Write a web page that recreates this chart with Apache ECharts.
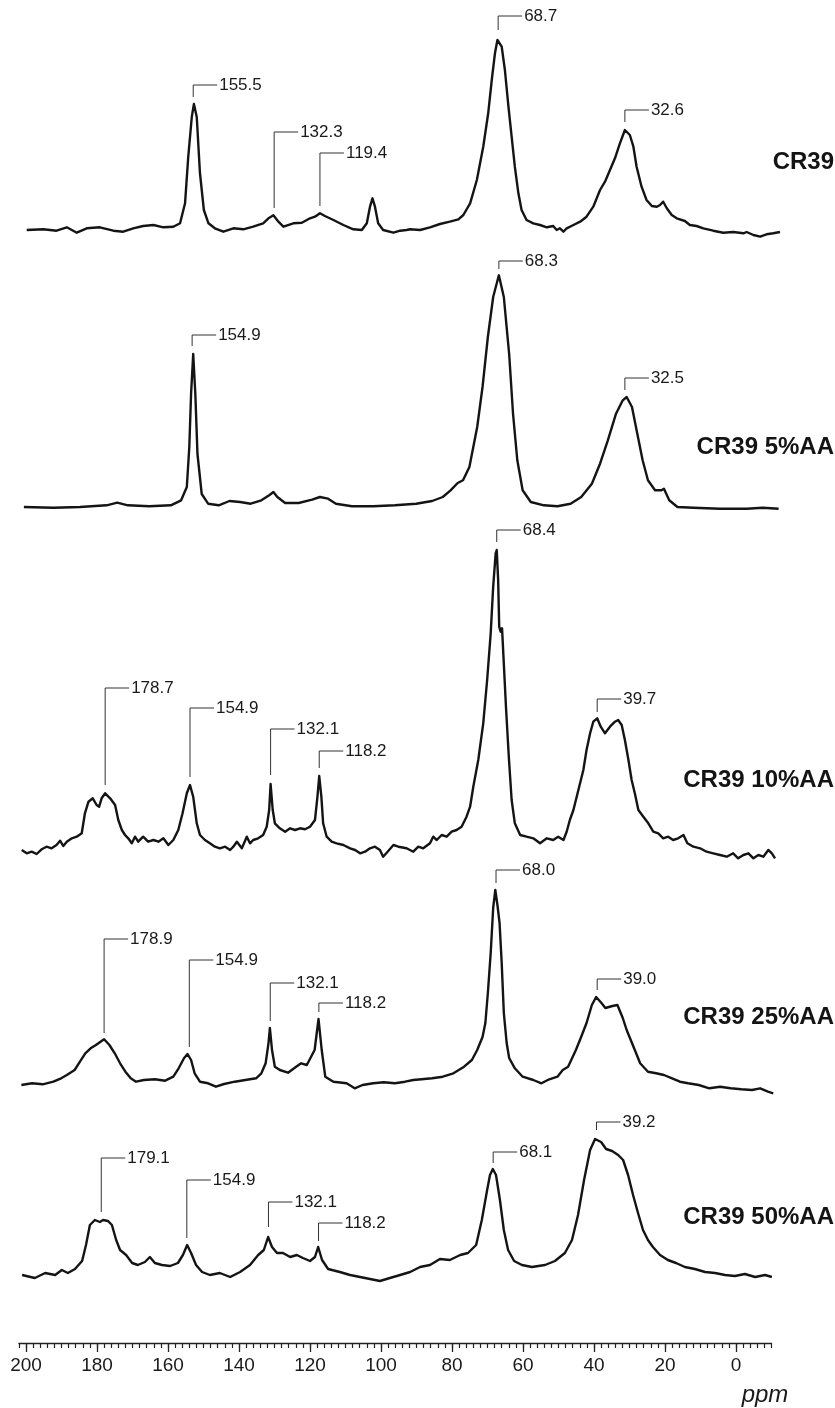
<!DOCTYPE html>
<html>
<head>
<meta charset="utf-8">
<title>CR39 13C NMR spectra</title>
<script src="https://cdn.jsdelivr.net/npm/echarts@6/dist/echarts.min.js"></script>
<style>
  html, body { margin: 0; padding: 0; background: #fff; }
  #chart { width: 835px; height: 1408px; }
</style>
</head>
<body>
<div id="chart"></div>
<script>
// spectra, [ppm, intensity]
const cr39 = [[199.8,0],[195.1,0.7],[191.4,-0.7],[188.5,2.7],[185.7,-2.7],[182.9,1.7],[179.2,2.7],[175.4,-0.7],[172.6,-1.7],[169.8,1.7],[167.0,4],[164.1,5],[161.3,2.7],[158.5,3.3],[156.6,6.7],[155.2,26.7],[154.3,73],[153.3,113],[152.7,126],[151.9,113],[151.0,57],[149.9,20],[148.6,6.7],[146.8,1.7],[144.4,-1.7],[141.6,1.7],[138.8,0.7],[136.0,3.3],[133.2,6.7],[131.7,11.7],[130.3,14.7],[128.9,8.3],[127.5,3.3],[124.7,6.7],[122.3,7.3],[120.0,11.7],[118.6,13.3],[117.2,16.7],[115.8,14],[113.4,10],[110.6,5],[107.8,0.7],[105.4,0],[104.0,6.7],[103.1,23.3],[102.4,31.7],[101.7,23.3],[100.8,6.7],[99.4,0],[96.5,-2.7],[94.6,-0.7],[92.8,0],[91.8,0.7],[89.0,0],[86.2,2.7],[83.4,6],[80.6,8.3],[78.2,10.7],[76.8,15],[74.9,26.7],[73.0,50],[71.2,83.3],[69.8,116.7],[68.8,150],[67.9,176.7],[67.2,190],[66.8,191.7],[66.0,183.3],[65.1,160],[64.1,123.3],[63.2,93.3],[62.3,63.3],[61.3,36.7],[60.4,20],[59.0,10],[57.1,6.7],[55.2,5],[53.3,2.7],[51.5,4],[50.5,0],[49.6,1.7],[48.6,-1.7],[47.7,1.7],[45.8,5],[43.9,8.3],[42.1,13.3],[40.2,23.3],[38.3,40],[36.9,48.3],[35.5,60],[34.1,71.7],[32.7,86.7],[31.3,100],[29.9,95],[28.9,83.3],[28.0,63.3],[26.6,43.3],[25.2,30],[23.7,24],[22.3,23.3],[21.4,25],[20.5,28.3],[19.5,21.7],[18.1,15],[16.7,11.7],[14.4,9],[13.0,5],[11.1,4],[9.2,1.7],[6.4,-0.7],[3.6,-2.7],[0.8,-2],[-2.1,-3.3],[-3.0,-2],[-4.9,-5],[-6.8,-6.7],[-8.6,-4.3],[-10.5,-3.3],[-12.4,-2]];

const aa5 = [[200.6,0],[192.3,-0.7],[184.8,0],[177.3,1.7],[174.3,4.3],[171.3,1.7],[165.3,0.7],[159.2,1.7],[156.3,6.7],[154.7,20],[154.0,60],[153.5,113],[152.9,153],[152.3,113],[151.7,53],[150.5,13],[148.7,3.3],[145.7,1.7],[142.7,6],[139.7,5],[136.7,3.3],[133.7,6.7],[131.5,11.7],[130.3,15],[129.2,10],[127.0,4],[123.2,4],[119.4,7.3],[117.2,10],[114.9,8.3],[112.7,3.3],[108.2,0.7],[102.2,0.7],[96.1,1.7],[90.1,3.3],[85.6,6],[82.6,10],[80.4,16.7],[78.4,24],[76.9,26.7],[75.1,40],[72.9,80],[71.4,120],[69.9,170],[68.4,210],[66.8,231.7],[65.4,210],[63.9,153],[62.8,93],[61.6,46.7],[60.1,16.7],[57.8,5],[54.1,1.7],[50.3,0.7],[46.6,3.3],[43.6,10],[40.6,23.3],[38.3,43.3],[36.1,66.7],[33.8,93.3],[31.9,106.7],[30.8,110],[29.3,100],[27.8,73.3],[26.3,46.7],[24.8,26.7],[22.8,16.7],[21.0,16.7],[20.3,18.3],[18.8,6.7],[16.5,0],[12.0,-0.7],[4.5,-1.7],[-3.0,-1.7],[-7.5,-0.7],[-12.0,-1.7]];

const aa10 = [[201.2,0],[199.8,-3.3],[198.4,-1.7],[197.0,-4],[195.6,0.7],[194.2,3.3],[192.8,1.7],[191.4,5],[190.4,9.3],[189.5,4],[188.5,8.3],[187.1,11.7],[185.7,13.3],[184.3,16.7],[183.4,36.7],[182.4,48.3],[181.2,51.7],[180.1,45],[179.4,43.3],[178.7,51.7],[177.7,56.7],[176.3,51.7],[174.9,45],[174.0,30],[173.0,20],[172.1,15],[171.2,11.7],[170.2,6.7],[169.3,13.3],[168.4,8.3],[167.0,13.3],[165.6,8.3],[164.1,10],[162.7,8.3],[161.3,11.7],[159.9,5],[158.5,10],[157.1,20],[155.9,36.7],[154.7,56.7],[153.8,65],[152.9,53.3],[151.9,26.7],[151.0,15],[149.6,10],[148.2,6.7],[146.8,3.3],[145.4,1.7],[143.9,3.3],[142.5,0],[141.6,3.3],[140.6,8.3],[139.2,1.7],[137.8,13.3],[136.9,6.7],[136.0,10],[134.6,11.7],[133.2,15],[132.2,23.3],[131.5,40],[131.1,66],[130.5,40],[129.9,26.7],[128.5,21.7],[127.0,18.3],[125.6,21.7],[124.2,20],[122.8,21.7],[121.4,20.7],[120.0,23.3],[118.6,30],[117.9,53.3],[117.4,74],[116.8,53.3],[116.3,26.7],[115.3,13.3],[113.9,8.3],[112.5,6.7],[110.6,5],[108.7,1.7],[107.3,0],[105.9,-3.3],[104.5,-1.7],[103.1,1.7],[101.7,3.3],[100.3,0],[99.4,-6.7],[97.9,-0.7],[96.5,5],[95.1,3.3],[94.6,5],[92.8,1.7],[90.9,-1.7],[89.5,3.3],[88.1,1.7],[86.2,6.7],[85.3,13.3],[84.3,10],[82.9,15],[81.5,13.3],[80.1,18.3],[78.7,20],[77.3,23.3],[75.9,33.3],[74.9,43.3],[74.0,63.3],[72.6,90],[71.2,126.7],[70.1,170],[69.1,216.7],[68.4,263.3],[67.7,296.7],[67.4,300],[67.0,270],[66.7,223.3],[66.3,218.3],[65.9,221.7],[65.5,193.3],[64.8,143.3],[64.0,93.3],[63.2,50],[62.3,26.7],[60.8,15],[59.0,13.3],[57.1,11.7],[55.2,6.7],[53.3,11.7],[51.5,10],[50.1,13.3],[48.6,10],[47.7,18.3],[46.8,30],[45.8,40],[44.4,60],[43.0,80],[42.1,100],[41.1,116.7],[40.2,128.3],[39.1,131.7],[38.1,123.3],[36.9,116.7],[35.5,123.3],[34.1,128.3],[33.2,130],[32.2,125],[31.3,110],[30.3,90],[29.4,70],[28.5,56.7],[27.5,40],[26.1,33.3],[24.7,26.7],[23.3,18.3],[21.9,16.7],[20.5,11.7],[19.1,13.3],[17.7,10],[16.3,11.7],[14.8,15],[13.7,6.7],[12.0,3.3],[10.1,1.7],[8.3,-1.7],[6.4,-3.3],[4.5,-5],[2.6,-6.7],[0.8,-3.3],[-0.6,-8.3],[-2.1,-5],[-3.5,-3.3],[-4.9,-8.3],[-6.3,-5],[-7.7,-6.7],[-9.1,0],[-10.1,-3.3],[-11.0,-8.3]];

const aa25 = [[201.3,-2],[198.3,-0.3],[195.3,-1.3],[192.3,1.3],[190.1,4.7],[188.5,8],[186.3,13],[184.8,21.3],[183.3,29.7],[181.8,34.7],[180.3,38],[178.0,43.7],[176.5,38],[175.0,29.7],[173.5,19.7],[172.0,11.3],[170.5,4.7],[169.0,1.3],[166.8,3],[163.7,3.7],[160.8,2.3],[158.5,6.3],[157.0,14.7],[155.5,24.7],[154.5,29],[153.5,23],[152.5,9.7],[151.0,1.3],[148.7,-0.3],[146.5,-3.7],[144.2,-1],[141.2,1.3],[138.2,3],[135.2,4.7],[133.7,9.7],[132.5,19.7],[131.7,39.7],[131.3,55],[130.7,33],[129.9,16.3],[128.5,13],[126.2,10.3],[123.9,16.3],[122.5,19.7],[120.9,18],[118.7,33],[117.6,64],[116.7,33],[115.7,6.3],[113.4,1.3],[109.7,-0.3],[107.4,-5.3],[105.2,-2],[102.2,-0.3],[99.2,0.7],[96.1,-0.3],[93.2,1.3],[90.9,3],[88.6,3.7],[85.6,4.7],[82.6,6.3],[79.6,9.7],[76.6,16.3],[74.4,23],[72.9,33],[71.4,46],[70.6,60],[69.9,90],[69.1,130],[68.4,175],[67.8,193],[67.2,178],[66.6,160],[66.0,120],[65.4,70],[64.6,40],[63.9,25],[62.3,14.7],[60.1,6.3],[57.1,3],[54.8,-0.3],[52.6,3.7],[50.3,6.3],[48.8,13],[47.3,16.3],[45.1,33],[43.6,46.3],[42.1,60],[40.6,78],[39.4,86],[37.9,80],[36.8,75],[34.8,77],[33.4,78],[31.9,65],[30.8,53],[28.5,33],[27.0,19.7],[24.8,11.3],[22.5,9.7],[20.3,8],[18.0,4.7],[15.8,1.3],[13.5,-0.3],[10.5,-2],[7.5,-5.3],[4.5,-3.7],[1.5,-5.3],[-1.5,-6.3],[-4.5,-7],[-6.8,-5.3],[-9.0,-8.7],[-10.5,-10.3]];

const aa50 = [[201.1,0],[197.5,-3],[194.6,2],[191.8,0],[189.9,5],[188.2,2],[186.2,6],[184.2,14],[183.1,30],[182.0,50],[180.6,55],[179.2,53],[178.3,55],[176.9,54],[175.8,50],[174.6,35],[173.5,25],[171.8,20],[170.1,12],[168.5,10],[166.5,13],[165.1,18],[163.7,12],[161.7,10],[159.4,9],[157.2,12],[155.8,20],[154.6,30],[153.5,22],[152.1,10],[150.4,3],[148.2,0],[145.4,2],[142.5,-2],[139.7,3],[136.9,10],[134.6,20],[133.0,25],[131.8,38],[130.7,28],[129.3,22],[127.6,22],[125.6,18],[123.7,20],[122.0,17],[120.0,14],[118.6,18],[117.7,28],[116.6,15],[114.9,6],[111.6,3],[108.7,0],[105.9,-2],[103.1,-4],[100.3,-6],[97.5,-3],[94.6,0],[91.8,3],[89.0,8],[86.2,10],[83.4,16],[80.6,15],[77.7,20],[75.5,22],[73.2,30],[71.6,55],[70.1,85],[69.3,100],[68.5,106],[67.6,100],[66.5,75],[65.4,45],[64.2,25],[62.5,14],[60.3,10],[57.5,8],[53.8,10],[51.0,14],[48.2,22],[46.2,35],[44.5,60],[42.8,95],[41.1,125],[39.7,136],[39.2,138],[38.0,133],[36.6,126],[34.9,124],[33.2,120],[31.8,115],[30.4,100],[29.0,80],[27.6,62],[26.2,45],[24.8,35],[23.4,28],[21.4,20],[19.2,15],[16.9,12],[14.4,8],[11.6,6],[8.7,3],[5.9,2],[3.1,0],[0.3,-1],[-2.5,1],[-5.4,-2],[-8.2,0],[-10.1,-2]];

// peak marks: [ppm of mark, height where the stem starts, height of the label]
const peaksCr39 = [[152.9,133,145],[130.1,22,98],[117.2,24,77],[67.0,200,214],[31.3,108,120]];
const textCr39 = ['155.5','132.3','119.4','68.7','32.6'];
const peaksAa5 = [[153.2,161,172],[66.8,238,246],[31.3,117,129]];
const textAa5 = ['154.9','68.3','32.5'];
const peaksAa10 = [[177.7,65,162],[153.8,73,142],[131.1,75,121],[117.4,82,99],[67.4,308,320],[39.1,138,151]];
const textAa10 = ['178.7','154.9','132.1','118.2','68.4','39.7'];
const peaksAa25 = [[178.0,50,144],[154.0,36,123],[131.2,62,100],[117.5,71,80],[67.6,200,213],[39.1,93,104]];
const textAa25 = ['178.9','154.9','132.1','118.2','68.0','39.0'];
const peaksAa50 = [[178.8,63,117],[154.7,37,95],[131.7,48,73],[117.6,34,52],[68.4,112,123],[39.3,145,153]];
const textAa50 = ['179.1','154.9','132.1','118.2','68.1','39.2'];

const sampleNames = ['CR39', 'CR39 5%AA', 'CR39 10%AA', 'CR39 25%AA', 'CR39 50%AA'];
const majorTicks = [200, 180, 160, 140, 120, 100, 80, 60, 40, 20, 0];

// layout
const X200 = 26, PX = 3.55;            // pixel of 200 ppm, pixels per ppm
const PPM_MAX = 202, PPM_MIN = -12.5;  // range of the spectrum panels
const Y_MIN = -20, Y_MAX = 220;        // one intensity unit = one pixel
const baselines = [230, 507, 850, 1083, 1275];
const nameOffsets = [68, 60, 70, 66, 58];
const axisY = 1343;
const FONT = '"Liberation Sans", Arial, Helvetica, sans-serif';

function xOf(ppm) { return X200 + (200 - ppm) * PX; }

const spectra = [cr39, aa5, aa10, aa25, aa50];
const peaks = [peaksCr39, peaksAa5, peaksAa10, peaksAa25, peaksAa50];
const peakTexts = [textCr39, textAa5, textAa10, textAa25, textAa50];

function bracketRenderer(texts) {
  return function (params, api) {
    const p0 = api.coord([api.value(0), api.value(1)]);
    const p1 = api.coord([api.value(0), api.value(2)]);
    return {
      type: 'group',
      children: [{
        type: 'polyline',
        shape: { points: [[p0[0], p0[1]], [p1[0], p1[1]], [p1[0] + 24, p1[1]]] },
        style: { stroke: '#333', lineWidth: 1, fill: null }
      }, {
        type: 'text',
        x: p1[0] + 26,
        y: p1[1],
        style: {
          text: texts[params.dataIndex],
          fill: '#1a1a1a',
          font: '17px ' + FONT,
          align: 'left',
          verticalAlign: 'middle'
        }
      }]
    };
  };
}

const grids = [], xAxes = [], yAxes = [], series = [], graphics = [];
const left = xOf(PPM_MAX), right = xOf(PPM_MIN);

spectra.forEach(function (data, i) {
  // grids overlap; line and marks are not clipped so tall peaks can run above their grid
  grids.push({ left: left, top: baselines[i] - Y_MAX, width: right - left, height: Y_MAX - Y_MIN });
  xAxes.push({ type: 'value', gridIndex: i, min: PPM_MIN, max: PPM_MAX, inverse: true, show: false });
  yAxes.push({ type: 'value', gridIndex: i, min: Y_MIN, max: Y_MAX, show: false });
  series.push({
    type: 'line',
    xAxisIndex: i,
    yAxisIndex: i,
    data: data,
    symbol: 'none',
    lineStyle: { color: '#141414', width: 2.4, join: 'round' },
    clip: false,
    silent: true
  });
  series.push({
    type: 'custom',
    xAxisIndex: i,
    yAxisIndex: i,
    data: peaks[i],
    renderItem: bracketRenderer(peakTexts[i]),
    clip: false,
    silent: true
  });
  graphics.push({
    type: 'text',
    x: 834,
    y: baselines[i] - nameOffsets[i],
    style: {
      text: sampleNames[i],
      fill: '#141414',
      font: 'bold 24px ' + FONT,
      align: 'right',
      verticalAlign: 'middle'
    }
  });
});

// ppm axis at the bottom: minor ticks every 2 ppm, major ticks and labels every 20
const axisLeft = xOf(PPM_MAX), axisRight = xOf(-10);
grids.push({ left: axisLeft, top: axisY - 40, width: axisRight - axisLeft, height: 40 });
yAxes.push({ type: 'value', gridIndex: 5, min: 0, max: 1, show: false });
xAxes.push({
  type: 'value', gridIndex: 5, position: 'bottom', min: -10, max: PPM_MAX, inverse: true, interval: 2,
  axisLine: { show: true, lineStyle: { color: '#222', width: 1.3 } },
  axisTick: { show: true, length: 5, lineStyle: { color: '#222', width: 1.2 } },
  axisLabel: { show: false },
  splitLine: { show: false }
});
xAxes.push({
  type: 'value', gridIndex: 5, position: 'bottom', min: -10, max: PPM_MAX, inverse: true,
  axisLine: { show: false },
  axisTick: { show: true, length: 9, customValues: majorTicks, lineStyle: { color: '#222', width: 1.3 } },
  axisLabel: { show: true, customValues: majorTicks, margin: 13, color: '#1a1a1a', fontSize: 19, fontFamily: FONT },
  splitLine: { show: false }
});
graphics.push({
  type: 'text',
  x: 765,
  y: 1395,
  style: { text: 'ppm', fill: '#1a1a1a', font: 'italic 24px ' + FONT, align: 'center', verticalAlign: 'middle' }
});

const chart = echarts.init(document.getElementById('chart'), null, { renderer: 'canvas' });
chart.setOption({
  animation: false,
  backgroundColor: '#fff',
  grid: grids,
  xAxis: xAxes,
  yAxis: yAxes,
  series: series,
  graphic: graphics
});
</script>
</body>
</html>
